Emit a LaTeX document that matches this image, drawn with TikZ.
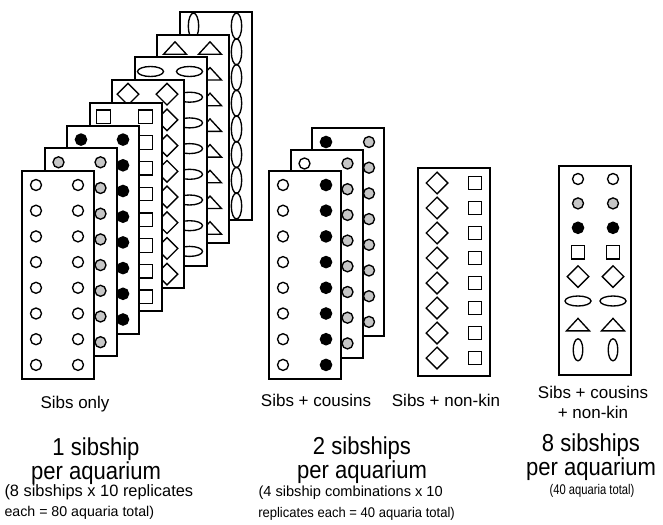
\documentclass[tikz,border=0pt]{standalone}
\usepackage{fontspec}
\setmainfont{Liberation Sans}
\usetikzlibrary{positioning}
\tikzset{
  card/.style={draw, fill=white, line width=2pt},
  sym/.style={draw, line width=1.35pt},
  label/.style={font=\fontsize{17}{20}\selectfont, anchor=base},
  big/.style={font=\fontsize{24.5}{21}\selectfont, align=center, anchor=base,
              inner sep=0pt, transform shape, xscale=0.9},
  small/.style={anchor=base west}
}
% one symbol per family, drawn at (x,y)
\newcommand{\shOpen}[2]{\draw[sym] ({#1},{#2}) circle (5.5pt);}
\newcommand{\shGray}[2]{\draw[sym, fill=gray!45] ({#1},{#2}) circle (5.5pt);}
\newcommand{\shBlack}[2]{\draw[sym, fill=black] ({#1},{#2}) circle (5.6pt);}
\newcommand{\shSquare}[2]{\draw[sym] ({#1},{#2}) +(-6.8,-6.8) rectangle +(6.8,6.8);}
\newcommand{\shDiamond}[2]{\draw[sym] ({#1},{#2}) +(-10.8,0) -- +(0,-10.8) -- +(10.8,0) -- +(0,10.8) -- cycle;}
\newcommand{\shHell}[2]{\draw[sym] ({#1},{#2}) ellipse (13pt and 5pt);}
\newcommand{\shTri}[2]{\draw[sym] ({#1},{#2}) +(-11.5,5.5) -- +(0,-7) -- +(11.5,5.5) -- cycle;}
\newcommand{\shVell}[2]{\draw[sym] ({#1},{#2}) ellipse (5.2pt and 13pt);}
\newcommand{\shVellS}[2]{\draw[sym] ({#1},{#2}) ellipse (4.8pt and 11pt);}
% left, top, left shape, right shape, left col, right col, first row, row gap
\newcommand{\drawcard}[8]{%
  \draw[card] ({#1},{#2}) rectangle ++(72,208);
  \foreach \r in {0,...,7}{
    #3{#1+#5}{#2+#7+\r*#8}
    #4{#1+#6}{#2+#7+\r*#8}
  }}

\begin{document}
\begin{tikzpicture}[x=1pt, y=-1pt]
  \useasboundingbox (0,0) rectangle (663,524);

  % 1 sibship per aquarium
  \drawcard{179.5}{12.1}{\shVell}{\shVell}{14}{57}{14}{25.7}
  \drawcard{157}{34.8}{\shTri}{\shTri}{18}{53}{14}{25.7}
  \drawcard{134.5}{57.5}{\shHell}{\shHell}{16}{55}{14}{25.7}
  \drawcard{112}{80.2}{\shDiamond}{\shDiamond}{16}{55}{14}{25.7}
  \drawcard{89.5}{102.9}{\shSquare}{\shSquare}{14}{56}{14}{25.7}
  \drawcard{67}{125.6}{\shBlack}{\shBlack}{14}{56}{14}{25.7}
  \drawcard{44.5}{148.3}{\shGray}{\shGray}{14}{56}{14}{25.7}
  \drawcard{22}{171}{\shOpen}{\shOpen}{14}{56}{14}{25.7}

  % 2 sibships per aquarium
  \drawcard{312}{128}{\shBlack}{\shGray}{14}{57}{14}{25.7}
  \drawcard{290.5}{149.5}{\shOpen}{\shGray}{14}{57}{14}{25.7}
  \drawcard{269}{171}{\shOpen}{\shBlack}{14}{57}{14}{25.7}
  \drawcard{418}{168}{\shDiamond}{\shSquare}{19}{57}{15}{25}

  % 8 sibships per aquarium
  \draw[card] (559,166) rectangle ++(72,209);
  \foreach \i/\s in {0/\shOpen, 1/\shGray, 2/\shBlack, 3/\shSquare,
                     4/\shDiamond, 5/\shHell, 6/\shTri, 7/\shVellS}{
    \s{578}{179+\i*24.4}
    \s{613}{179+\i*24.4}
  }

  \node[label] (sibsonly) at (75,408) {Sibs only};
  \node[big] (onesib) at (96,479) {1 sibship\\per aquarium};
  \node[small, font=\fontsize{16.4}{19}\selectfont] (detonea) at (1,496) {(8 sibships x 10 replicates};
  \node[small, font=\fontsize{14.2}{17}\selectfont] (detoneb) at (1,516) {each = 80 aquaria total)};

  \node[label] (sibscous) at (316,406) {Sibs + cousins};
  \node[label] (sibsnon) at (446,406) {Sibs + non-kin};
  \node[big] (twosib) at (362,478) {2 sibships\\per aquarium};
  \node[small, font=\fontsize{14.6}{18}\selectfont] (dettwoa) at (255,496) {(4 sibship combinations x 10};
  \node[small, font=\fontsize{14}{16}\selectfont, transform shape, xscale=0.93] (dettwob) at (255,517) {replicates each = 40 aquaria total)};

  \node[label, align=center, inner sep=0pt] (sibsall) at (593,418) {Sibs + cousins\\+ non-kin};
  \node[big] (eightsib) at (591,475) {8 sibships\\per aquarium};
  \node[small, anchor=base, font=\fontsize{14}{16}\selectfont, transform shape, xscale=0.8] (deteight) at (592,494) {(40 aquaria total)};
\end{tikzpicture}
\end{document}
